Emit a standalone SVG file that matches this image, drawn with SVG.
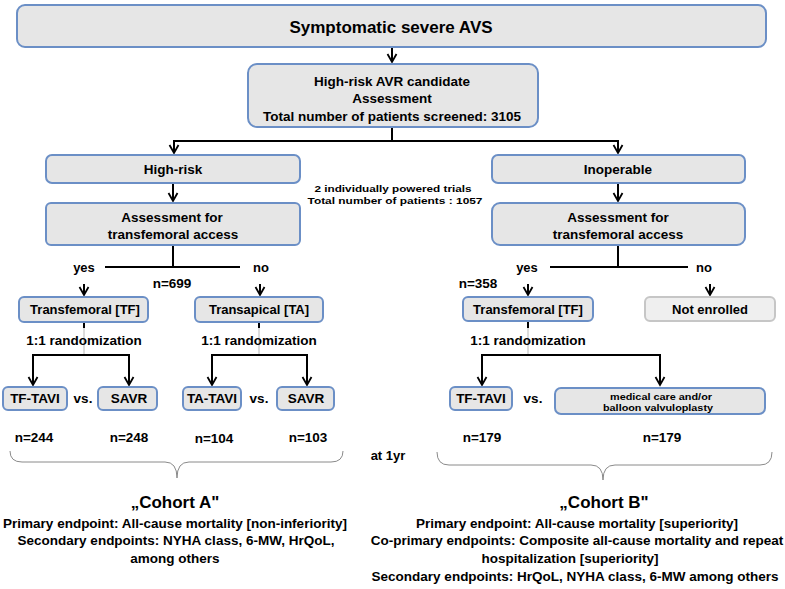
<svg xmlns="http://www.w3.org/2000/svg" width="785" height="589" viewBox="0 0 785 589">
<defs>
<style>
.box{fill:#e6e6e6;stroke:#6b8fc6;stroke-width:2}
.gbox{fill:#efefef;stroke:#c6c6c6;stroke-width:2}
text{font-family:"Liberation Sans",Arial,sans-serif;font-weight:bold;fill:#000;text-anchor:middle;dominant-baseline:central}
.t13{font-size:13px}
.t14{font-size:13.5px}
.sm{font-size:9.5px}
.xs{font-size:8.5px}
.ttl{font-size:17px}
.coh{font-size:17px}
.ep{font-size:13.5px}
.ln{fill:none;stroke:#000;stroke-width:2}
.lg{fill:none;stroke:#d0d0d0;stroke-width:1.5}
.br{fill:none;stroke:#8a8a8a;stroke-width:1}
</style>
<marker id="ah" markerUnits="userSpaceOnUse" markerWidth="12" markerHeight="12" viewBox="0 0 12 12" refX="10" refY="6" orient="auto">
<path d="M2,1.5 L10,6 L2,10.5" fill="none" stroke="#000" stroke-width="1.8"/>
</marker>
</defs>
<rect width="785" height="589" fill="#fff"/>

<g id="connectors">
<path class="ln" d="M392,47 V62" marker-end="url(#ah)"/>
<path class="ln" d="M392,127 V141"/>
<path class="ln" d="M392,141 H174 V153" marker-end="url(#ah)"/>
<path class="ln" d="M392,141 H618 V153" marker-end="url(#ah)"/>
<path class="ln" d="M173,183 V201" marker-end="url(#ah)"/>
<path class="ln" d="M618,183 V201" marker-end="url(#ah)"/>
<path class="ln" d="M173,245 V267"/>
<path class="ln" d="M105,267 H240"/>
<path class="ln" d="M84,284 V295" marker-end="url(#ah)"/>
<path class="ln" d="M260,284 V295" marker-end="url(#ah)"/>
<path class="ln" d="M618,245 V267"/>
<path class="ln" d="M550,267 H688"/>
<path class="ln" d="M528,284 V295" marker-end="url(#ah)"/>
<path class="ln" d="M710,284 V295" marker-end="url(#ah)"/>
<path class="lg" d="M84,327 V355"/>
<path class="lg" d="M259,327 V355"/>
<path class="lg" d="M528,327 V355"/>
<path class="ln" d="M84,322 V328"/>
<path class="ln" d="M259,322 V328"/>
<path class="ln" d="M528,322 V328"/>
<path class="ln" d="M84,355 H33 V385" marker-end="url(#ah)"/>
<path class="ln" d="M84,355 H129 V385" marker-end="url(#ah)"/>
<path class="ln" d="M259,355 H212 V385" marker-end="url(#ah)"/>
<path class="ln" d="M259,355 H307 V385" marker-end="url(#ah)"/>
<path class="ln" d="M528,355 H482 V385" marker-end="url(#ah)"/>
<path class="ln" d="M528,355 H660 V385" marker-end="url(#ah)"/>
<path class="br" d="M10,451 Q10,462 22,462 L165,462 Q177,462 177,478 Q177,462 189,462 L331,462 Q343,462 343,451"/>
<path class="br" d="M437,452 Q437,465 449,465 L591,465 Q603,465 603,480 Q603,465 615,465 L760,465 Q772,465 772,452"/>
</g>

<g id="n-top"><rect class="box" x="17" y="5" width="749" height="42" rx="8"/><text class="ttl" x="391" y="27">Symptomatic severe AVS</text></g>
<g id="n-candidate"><rect class="box" x="248" y="64" width="290" height="63" rx="9"/>
<text class="t14" x="392" y="81">High-risk AVR candidate</text>
<text class="t14" x="392" y="98">Assessment</text>
<text class="t14" x="392" y="116" textLength="258" lengthAdjust="spacingAndGlyphs">Total number of patients screened: 3105</text></g>
<g id="n-highrisk"><rect class="box" x="46" y="155" width="254" height="28" rx="6"/><text class="t14" x="173" y="169">High-risk</text></g>
<g id="n-inoperable"><rect class="box" x="492" y="155" width="253" height="28" rx="6"/><text class="t14" x="618" y="169">Inoperable</text></g>
<g id="n-trials"><text class="sm" x="393" y="188" textLength="157" lengthAdjust="spacingAndGlyphs">2 individually powered trials</text><text class="sm" x="395" y="200" textLength="175" lengthAdjust="spacingAndGlyphs">Total number of patients  : 1057</text></g>
<g id="n-assessL"><rect class="box" x="46" y="203" width="254" height="42" rx="5"/><text class="t14" x="172" y="217">Assessment for</text><text class="t14" x="173" y="234">transfemoral access</text></g>
<g id="n-assessR"><rect class="box" x="492" y="203" width="253" height="42" rx="8"/><text class="t14" x="618" y="217">Assessment for</text><text class="t14" x="618" y="234">transfemoral access</text></g>
<g id="lbl-L"><text class="t13" x="84" y="267">yes</text><text class="t13" x="261" y="267">no</text><text class="t14" x="172" y="283">n=699</text></g>
<g id="lbl-R"><text class="t13" x="527" y="267">yes</text><text class="t13" x="704" y="267">no</text><text class="t14" x="478" y="283">n=358</text></g>
<g id="n-tfL"><rect class="box" x="19" y="297" width="129" height="25" rx="5"/><text class="t13" x="85" y="309">Transfemoral [TF]</text></g>
<g id="n-ta"><rect class="box" x="195" y="297" width="128" height="25" rx="5"/><text class="t13" x="259" y="309">Transapical [TA]</text></g>
<g id="n-tfR"><rect class="box" x="463" y="297" width="130" height="24" rx="5"/><text class="t13" x="528" y="309">Transfemoral [TF]</text></g>
<g id="n-notenrolled"><rect class="gbox" x="645" y="297" width="130" height="24" rx="5"/><text class="t13" x="710" y="309">Not enrolled</text></g>
<g id="rand"><text class="t14" x="84" y="340">1:1 randomization</text><text class="t14" x="259" y="340">1:1 randomization</text><text class="t14" x="528" y="340">1:1 randomization</text></g>
<g id="n-tftaviL"><rect class="box" x="3" y="387" width="64" height="23" rx="5"/><text class="t14" x="35" y="398">TF-TAVI</text></g>
<g id="n-savrL"><rect class="box" x="98" y="387" width="59" height="23" rx="5"/><text class="t14" x="129" y="398">SAVR</text></g>
<g id="n-tatavi"><rect class="box" x="183" y="387" width="58" height="23" rx="5"/><text class="t14" x="212" y="398">TA-TAVI</text></g>
<g id="n-savrTA"><rect class="box" x="277" y="387" width="57" height="23" rx="5"/><text class="t14" x="306" y="398">SAVR</text></g>
<g id="n-tftaviR"><rect class="box" x="450" y="387" width="62" height="23" rx="5"/><text class="t14" x="481" y="398">TF-TAVI</text></g>
<g id="n-medical"><rect class="box" x="555" y="388" width="210" height="26" rx="6"/><text class="xs" x="661" y="397" textLength="102" lengthAdjust="spacingAndGlyphs">medical care and/or</text><text class="xs" x="658" y="408" textLength="110" lengthAdjust="spacingAndGlyphs">balloon valvuloplasty</text></g>
<g id="vs"><text class="t14" x="83" y="398">vs.</text><text class="t14" x="259" y="398">vs.</text><text class="t14" x="533" y="398">vs.</text></g>
<g id="counts"><text class="t14" x="34" y="437">n=244</text><text class="t14" x="129" y="437">n=248</text><text class="t14" x="214" y="438">n=104</text><text class="t14" x="308" y="437">n=103</text><text class="t14" x="482" y="437">n=179</text><text class="t14" x="662" y="437">n=179</text></g>
<g id="at1yr"><text class="t13" x="388" y="455">at 1yr</text></g>
<g id="cohortA"><text class="coh" x="175" y="502">„Cohort A"</text>
<text class="ep" x="175" y="523">Primary endpoint: All-cause mortality [non-inferiority]</text>
<text class="ep" x="176" y="540">Secondary endpoints: NYHA class, 6-MW, HrQoL,</text>
<text class="ep" x="175" y="558">among others</text></g>
<g id="cohortB"><text class="coh" x="604" y="502">„Cohort B"</text>
<text class="ep" x="577" y="523">Primary endpoint: All-cause mortality [superiority]</text>
<text class="ep" x="577" y="540">Co-primary endpoints: Composite all-cause mortality and repeat</text>
<text class="ep" x="570" y="558">hospitalization [superiority]</text>
<text class="ep" x="575" y="576">Secondary endpoints: HrQoL, NYHA class, 6-MW among others</text></g>
</svg>
